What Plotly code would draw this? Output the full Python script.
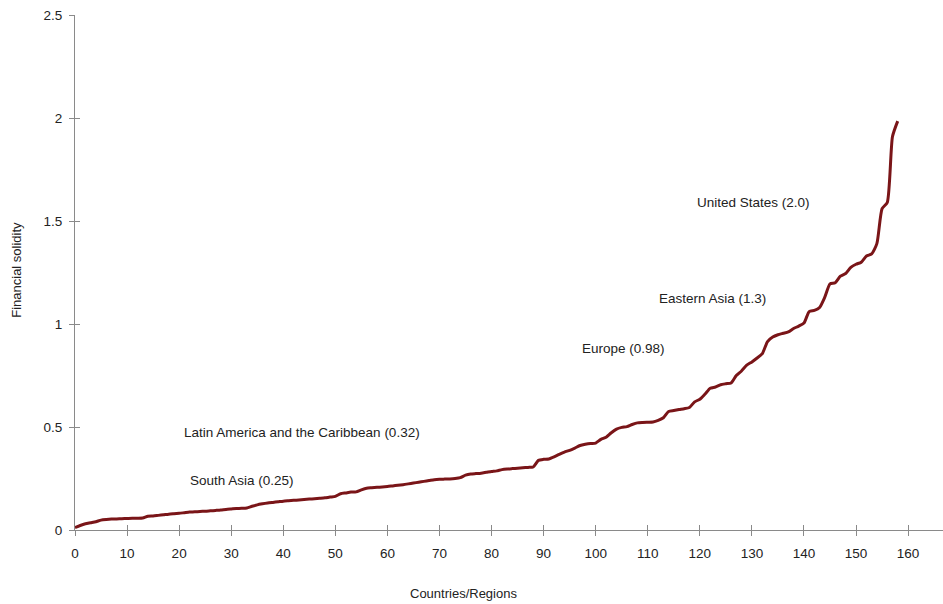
import plotly.graph_objects as go

# Countries/regions ranked by financial solidity (index 0..158)
country_index = list(range(159))
financial_solidity = [
    0.012, 0.022, 0.030, 0.035, 0.040, 0.048, 0.051, 0.053, 0.054, 0.055,
    0.056, 0.057, 0.057, 0.058, 0.067, 0.068, 0.071, 0.074, 0.077, 0.079,
    0.081, 0.084, 0.087, 0.088, 0.090, 0.091, 0.093, 0.095, 0.097, 0.100,
    0.102, 0.104, 0.105, 0.107, 0.115, 0.122, 0.127, 0.131, 0.134, 0.137,
    0.140, 0.142, 0.144, 0.146, 0.148, 0.150, 0.152, 0.154, 0.156, 0.160,
    0.163, 0.176, 0.180, 0.184, 0.185, 0.195, 0.203, 0.205, 0.207, 0.209,
    0.211, 0.214, 0.217, 0.220, 0.224, 0.228, 0.232, 0.236, 0.240, 0.244,
    0.246, 0.247, 0.248, 0.250, 0.254, 0.266, 0.272, 0.274, 0.276, 0.280,
    0.284, 0.287, 0.293, 0.296, 0.298, 0.300, 0.302, 0.304, 0.306, 0.338,
    0.343, 0.345, 0.355, 0.367, 0.378, 0.387, 0.398, 0.410, 0.416, 0.420,
    0.422, 0.440, 0.450, 0.472, 0.490, 0.498, 0.502, 0.512, 0.520, 0.522,
    0.523, 0.524, 0.532, 0.545, 0.575, 0.580, 0.585, 0.589, 0.595, 0.622,
    0.635, 0.660, 0.688, 0.694, 0.705, 0.710, 0.714, 0.750, 0.772, 0.800,
    0.816, 0.835, 0.856, 0.915, 0.937, 0.948, 0.955, 0.962, 0.978, 0.990,
    1.005, 1.060, 1.066, 1.080, 1.130, 1.195, 1.200, 1.232, 1.245, 1.275,
    1.290, 1.300, 1.330, 1.340, 1.390, 1.560, 1.590, 1.910, 1.985,
]

# Region labels and their positions (data coordinates)
region_labels = [
    "United States (2.0)",
    "Eastern Asia (1.3)",
    "Europe (0.98)",
    "Latin America and the Caribbean (0.32)",
    "South Asia (0.25)",
]
label_x = [130.4, 122.4, 105.3, 43.6, 32.1]
label_y = [1.592, 1.126, 0.883, 0.471, 0.238]

x_ticks = list(range(0, 161, 10))
y_ticks = [0, 0.5, 1, 1.5, 2, 2.5]
y_tick_text = ["0", "0.5", "1", "1.5", "2", "2.5"]

FONT = "Liberation Sans, Arial, Helvetica, sans-serif"
LINE_COLOR = "#7a1518"
AXIS_COLOR = "#8a8a8a"
TEXT_COLOR = "#222222"

fig = go.Figure()
fig.add_trace(go.Scatter(
    x=country_index, y=financial_solidity, mode="lines",
    line=dict(color=LINE_COLOR, width=3, shape="spline", smoothing=0.6),
    showlegend=False, hoverinfo="x+y",
))
# invisible twin trace to carry the overlay axes (for crossing tick marks)
fig.add_trace(go.Scatter(
    x=country_index, y=financial_solidity, mode="lines",
    line=dict(color="rgba(0,0,0,0)", width=0),
    xaxis="x2", yaxis="y2", showlegend=False, hoverinfo="skip",
))

for txt, lx, ly in zip(region_labels, label_x, label_y):
    fig.add_annotation(x=lx, y=ly, text=txt, showarrow=False,
                       font=dict(family=FONT, size=13.5, color=TEXT_COLOR),
                       xanchor="center", yanchor="middle")

fig.add_annotation(xref="paper", yref="paper", x=0.448, y=-0.124,
                   text="Countries/Regions", showarrow=False,
                   font=dict(family=FONT, size=13, color=TEXT_COLOR),
                   xanchor="center", yanchor="middle")
fig.add_annotation(xref="paper", yref="paper", x=-0.067, y=0.505,
                   text="Financial solidity", showarrow=False, textangle=-90,
                   font=dict(family=FONT, size=13, color=TEXT_COLOR),
                   xanchor="center", yanchor="middle")

x_range = [0, 166.7]
y_range = [0, 2.5]

fig.update_layout(
    width=943, height=604,
    margin=dict(l=75, r=0, t=15, b=74),
    paper_bgcolor="white", plot_bgcolor="white",
    font=dict(family=FONT, size=13, color=TEXT_COLOR),
    xaxis=dict(range=x_range, tickvals=x_ticks, showgrid=False, zeroline=False,
               showline=True, linecolor=AXIS_COLOR, linewidth=1,
               ticks="outside", ticklen=5, tickcolor=AXIS_COLOR, tickwidth=1,
               ticklabelstandoff=6,
               tickfont=dict(family=FONT, size=13.5, color=TEXT_COLOR)),
    yaxis=dict(range=y_range, tickvals=y_ticks, ticktext=y_tick_text,
               showgrid=False, zeroline=False,
               showline=True, linecolor=AXIS_COLOR, linewidth=1,
               ticks="outside", ticklen=5, tickcolor=AXIS_COLOR, tickwidth=1,
               ticklabelstandoff=4,
               tickfont=dict(family=FONT, size=13.5, color=TEXT_COLOR)),
    xaxis2=dict(range=x_range, tickvals=x_ticks, overlaying="x", anchor="y",
                showgrid=False, zeroline=False, showline=False,
                ticks="inside", ticklen=5, tickcolor=AXIS_COLOR, tickwidth=1,
                showticklabels=False),
    yaxis2=dict(range=y_range, tickvals=y_ticks, overlaying="y", anchor="x",
                showgrid=False, zeroline=False, showline=False,
                ticks="inside", ticklen=5, tickcolor=AXIS_COLOR, tickwidth=1,
                showticklabels=False),
)

fig.write_html("out.html",
               config={"displayModeBar": False},
               post_script="document.body.style.margin='0px';")
